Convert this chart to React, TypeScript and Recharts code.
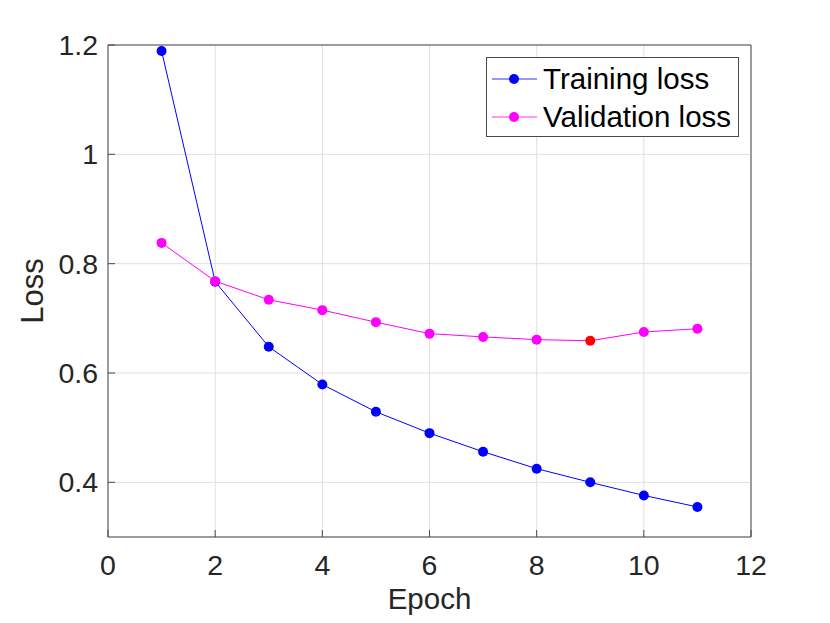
import * as React from "react";
import {
  LineChart,
  Line,
  XAxis,
  YAxis,
  CartesianGrid,
  Legend,
} from "recharts";

// values
const epochs = [1, 2, 3, 4, 5, 6, 7, 8, 9, 10, 11];
const trainingLoss = [1.189, 0.767, 0.648, 0.579, 0.529, 0.49, 0.456, 0.425, 0.4, 0.376, 0.355];
const validationLoss = [0.838, 0.768, 0.734, 0.715, 0.693, 0.672, 0.666, 0.661, 0.659, 0.675, 0.681];
const xTicks = [0, 2, 4, 6, 8, 10, 12];
const yTicks = [0.4, 0.6, 0.8, 1, 1.2];

const data = epochs.map((epoch, i) => ({
  epoch,
  training: trainingLoss[i],
  validation: validationLoss[i],
}));

// epoch with the lowest validation loss is drawn in red
const bestIndex = validationLoss.indexOf(Math.min(...validationLoss));

const AXIS = "#4a4a4a";
const TEXT = "#262626";
const FONT = "'Liberation Sans', Arial, sans-serif";

function makeDot(color: string, highlight?: number) {
  return (props: any) => {
    const { cx, cy, index } = props;
    if (cx == null || cy == null) return <g key={`d-${index}`} />;
    return (
      <circle
        key={`d-${index}`}
        cx={cx}
        cy={cy}
        r={5}
        fill={index === highlight ? "#ff0000" : color}
        stroke="none"
      />
    );
  };
}

function LegendBox(props: any) {
  const { payload = [] } = props;
  return (
    <div
      style={{
        boxSizing: "border-box",
        width: 253,
        height: 80,
        border: `1px solid ${AXIS}`,
        background: "#ffffff",
        paddingTop: 2,
        fontFamily: FONT,
      }}
    >
      {payload.map((entry: any) => (
        <div
          key={entry.value}
          style={{ display: "flex", alignItems: "center", height: 38 }}
        >
          <svg width={56} height={38} style={{ display: "block" }}>
            <line x1={5} x2={50} y1={19} y2={19} stroke={entry.color} strokeOpacity={0.55} strokeWidth={1.5} />
            <circle cx={27} cy={19} r={5} fill={entry.color} />
          </svg>
          <span style={{ fontSize: 29.5, lineHeight: "38px", color: "#000", whiteSpace: "nowrap" }}>
            {entry.value}
          </span>
        </div>
      ))}
    </div>
  );
}

export default function App() {
  return (
    <div style={{ position: "absolute", left: 0, top: 0, width: 830, height: 623, background: "#fff" }}>
      <LineChart
        width={830}
        height={623}
        data={data}
        margin={{ top: 44, right: 78, bottom: 0, left: 0 }}
        style={{ fontFamily: FONT }}
      >
        <CartesianGrid xAxisId="bottom" yAxisId="left" stroke="#e0e0e0" />
        <XAxis
          xAxisId="bottom"
          dataKey="epoch"
          type="number"
          domain={[0, 12]}
          ticks={xTicks}
          height={86}
          tickSize={-7}
          tickMargin={25}
          axisLine={{ stroke: AXIS }}
          tickLine={{ stroke: AXIS }}
          tick={{ fill: TEXT, fontSize: 28.5 }}
          label={{ value: "Epoch", position: "insideBottom", offset: 14, fill: TEXT, fontSize: 29.5 }}
        />
        <XAxis
          xAxisId="top"
          orientation="top"
          type="number"
          domain={[0, 12]}
          ticks={xTicks}
          height={1}
          tickSize={-7}
          tick={false}
          axisLine={{ stroke: AXIS }}
          tickLine={{ stroke: AXIS }}
        />
        <YAxis
          yAxisId="left"
          type="number"
          domain={[0.3, 1.2]}
          ticks={yTicks}
          width={108}
          tickSize={-7}
          tickMargin={17}
          axisLine={{ stroke: AXIS }}
          tickLine={{ stroke: AXIS }}
          tick={{ fill: TEXT, fontSize: 28.5 }}
          label={{
            value: "Loss",
            angle: -90,
            position: "insideLeft",
            offset: 32,
            fill: TEXT,
            fontSize: 31,
            style: { textAnchor: "middle" },
          }}
        />
        <YAxis
          yAxisId="right"
          orientation="right"
          type="number"
          domain={[0.3, 1.2]}
          ticks={yTicks}
          width={1}
          tickSize={-7}
          tick={false}
          axisLine={{ stroke: AXIS }}
          tickLine={{ stroke: AXIS }}
        />
        <Legend
          layout="vertical"
          align="center"
          verticalAlign="middle"
          content={<LegendBox />}
          wrapperStyle={{ left: 486, top: 57, width: 253, height: 80 }}
        />
        <Line
          xAxisId="bottom"
          yAxisId="left"
          type="linear"
          dataKey="training"
          name="Training loss"
          stroke="#0000ff"
          strokeWidth={1}
          dot={makeDot("#0000ff")}
          activeDot={false}
          isAnimationActive={false}
        />
        <Line
          xAxisId="bottom"
          yAxisId="left"
          type="linear"
          dataKey="validation"
          name="Validation loss"
          stroke="#ff00ff"
          strokeWidth={1}
          dot={makeDot("#ff00ff", bestIndex)}
          activeDot={false}
          isAnimationActive={false}
        />
      </LineChart>
    </div>
  );
}
